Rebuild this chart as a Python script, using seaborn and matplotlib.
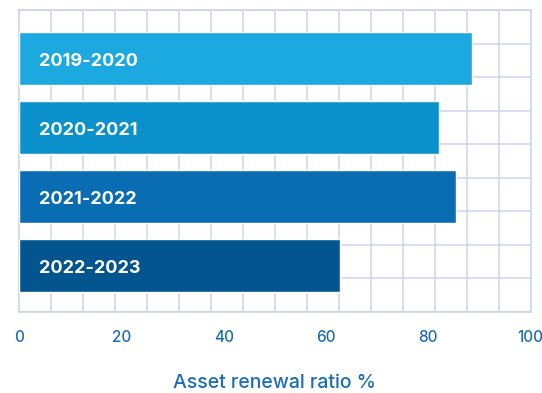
import numpy as np
import pandas as pd
import matplotlib
matplotlib.use("Agg")
import matplotlib.pyplot as plt
import seaborn as sns

# Asset renewal ratio by financial year
periods = ["2019-2020", "2020-2021", "2021-2022", "2022-2023"]
ratios = [88.5, 82.0, 85.4, 62.7]
bar_colors = ["#1ca9e0", "#0b92cc", "#0a6db4", "#03558f"]
x_ticks = [0, 20, 40, 60, 80, 100]
x_label = "Asset renewal ratio %"

grid_color = "#cbd3f0"
text_blue = "#1b6db5"

sns.set_theme(style="white")
plt.rcParams["font.family"] = ["Inter", "DejaVu Sans"]

df = pd.DataFrame({"period": periods, "ratio": ratios})

fig = plt.figure(figsize=(5.42, 3.93), dpi=100)
ax = fig.add_axes([19 / 542, 1 - 311.7 / 393, 511.7 / 542, 301.4 / 393])

sns.barplot(data=df, x="ratio", y="period", hue="period", palette=bar_colors,
            order=periods, hue_order=periods, dodge=False, width=0.764,
            saturation=1, legend=False, ax=ax, zorder=3)

ylim = (3.672, -0.696)
ax.set_xlim(0, 100)
ax.set_ylim(*ylim)

# decorative square grid behind the bars
ax.set_xticks(np.linspace(0, 100, 17), minor=True)
ax.set_yticks(np.linspace(ylim[1], ylim[0], 10), minor=True)
ax.grid(which="minor", color=grid_color, linewidth=1.1)
ax.grid(which="major", visible=False)
ax.set_axisbelow(True)
for s in ax.spines.values():
    s.set_color(grid_color)
    s.set_linewidth(1.2)

ax.set_xticks(x_ticks)
ax.set_xticklabels([str(t) for t in x_ticks], fontweight="medium")
ax.set_yticks([])
ax.tick_params(axis="x", which="both", length=0, pad=13, labelsize=11,
               labelcolor=text_blue)
ax.tick_params(axis="y", which="both", length=0)
ax.set_ylabel("")
ax.set_xlabel(x_label, color=text_blue, fontsize=14, labelpad=21,
              fontweight="medium")

# period names inside each bar
for i, name in enumerate(periods):
    ax.text(4, i + 0.05, name, color="white", fontsize=13, fontweight="bold",
            va="center", ha="left", zorder=4)

fig.savefig("out.png", dpi=100)
